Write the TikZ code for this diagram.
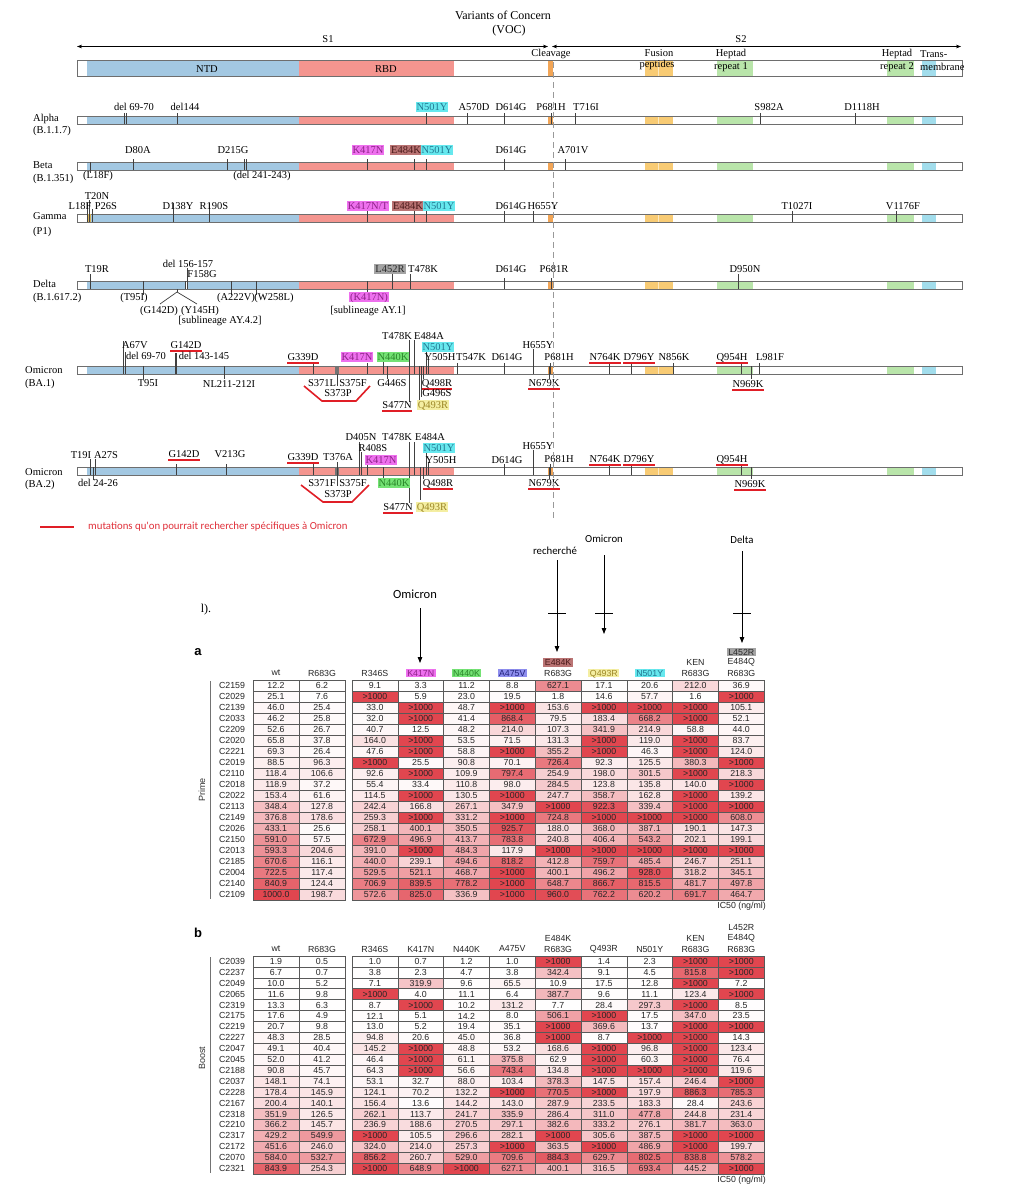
\documentclass[tikz,border=0pt]{standalone}
\usepackage{fontspec}
\setmainfont{Liberation Serif}
\newfontfamily\tabfont{Liberation Sans}
\newfontfamily\legfont{Carlito}
\usetikzlibrary{arrows.meta}

\definecolor{ntd}{HTML}{A3C8E2}
\definecolor{rbd}{HTML}{F4958F}
\definecolor{cleav}{HTML}{F2A556}
\definecolor{fus}{HTML}{F8CB74}
\definecolor{hep}{HTML}{B9E5AA}
\definecolor{tm}{HTML}{A2DDEC}
\definecolor{gtan}{HTML}{D9B45A}
\definecolor{barline}{HTML}{6E6E6E}
\definecolor{hmag}{HTML}{EE70EE}
\definecolor{hbrown}{HTML}{BA7474}
\definecolor{hcyan}{HTML}{66E8EE}
\definecolor{hgreen}{HTML}{74E274}
\definecolor{hyellow}{HTML}{F4EEA2}
\definecolor{hgray}{HTML}{A4A4A4}
\definecolor{hblue}{HTML}{8E8EEE}
\definecolor{tmag}{HTML}{8E2288}
\definecolor{tcyan}{HTML}{237892}
\definecolor{tgreen}{HTML}{2A862A}
\definecolor{tyellow}{HTML}{9C8626}
\definecolor{tbrown}{HTML}{4A1A1A}
\definecolor{tblue}{HTML}{22227A}
\definecolor{tgray}{HTML}{2A2A2A}
\definecolor{ured}{HTML}{E01E26}
\definecolor{legred}{HTML}{E0303A}
\definecolor{cellred}{HTML}{E1464F}

\newcounter{nn}
\newcommand\mutl[3]{\stepcounter{nn}\node[mlab] (n\thenn) at (#1,#2+3.5) {#3};}
\newcommand\mutu[3]{\stepcounter{nn}\node[mlab] (n\thenn) at (#1,#2+3.5) {#3};%
  \draw[uline] ([yshift=-2.3pt]n\thenn.base west) -- ([yshift=-2.3pt]n\thenn.base east);}
\newcommand\mutb[5]{\stepcounter{nn}\node[mbox, fill=#3, text=#4] (n\thenn) at (#1,#2+3.5) {#5};}
\newcommand\varl[3]{\stepcounter{nn}\node[mlab, anchor=base west] (n\thenn) at (#1,#2+3.5) {#3};}
\newcommand\tickv[3]{\draw[tickln] (#1,#2) -- (#1,#3);}
\newcommand\barfill[2]{%
  \fill[ntd] (87,#1) rectangle (299,#1+#2);
  \fill[rbd] (299,#1) rectangle (454,#1+#2);
  \fill[cleav] (548,#1) rectangle (553,#1+#2);
  \fill[fus] (645,#1) rectangle (673,#1+#2);
  \draw[white!55!fus, line width=0.6pt] (658.5,#1) -- (658.5,#1+#2);
  \fill[hep] (717,#1) rectangle (753,#1+#2);
  \fill[hep] (887,#1) rectangle (914,#1+#2);
  \fill[tm] (922,#1) rectangle (936,#1+#2);
  \draw[barline, line width=0.9pt] (77,#1) rectangle (962,#1+#2);}

\def\cbig{X}
\newcommand\mycell[4]{%
  \edef\cval{#3}%
  \ifx\cval\cbig\def\cpc{100}\def\ctxt{>1000}\else\pgfmathsetmacro\cpc{min(#3/10,100)}\let\ctxt\cval\fi
  \stepcounter{nn}%
  \node[cellbox, minimum height=#4pt, fill=cellred!\cpc!white] (n\thenn) at (#1,#2) {\ctxt};}
\newcommand\arow[4]{\pgfmathsetmacro\ry{685.5+11*#1}%
  \stepcounter{nn}\node[rlab] (n\thenn) at (232,\ry) {#2};%
  \foreach \v [count=\i from 0] in {#3} {\mycell{276+46*\i}{\ry}{\v}{11}}%
  \foreach \v [count=\i from 0] in {#4} {\mycell{374.9+45.8*\i}{\ry}{\v}{11}}}
\newcommand\brow[4]{\pgfmathsetmacro\ry{961.45+10.9*#1}%
  \stepcounter{nn}\node[rlab] (n\thenn) at (232,\ry) {#2};%
  \foreach \v [count=\i from 0] in {#3} {\mycell{276+46*\i}{\ry}{\v}{10.9}}%
  \foreach \v [count=\i from 0] in {#4} {\mycell{374.9+45.8*\i}{\ry}{\v}{10.9}}}
\newcommand\thd[3]{\stepcounter{nn}\node[thead] (n\thenn) at (#1,#2) {#3};}
\newcommand\thbx[5]{\stepcounter{nn}\node[thbox, fill=#3, text=#4] (n\thenn) at (#1,#2) {#5};}

\tikzset{
  mlab/.style={font=\fontsize{10.5}{12}\selectfont, inner sep=0pt, anchor=base},
  mbox/.style={mlab, inner xsep=1pt, inner ysep=1pt, text height=7.2pt, text depth=0.8pt},
  tickln/.style={draw=black!75, line width=0.7pt},
  uline/.style={draw=ured, line width=1.6pt},
  hdr/.style={font=\fontsize{10.5}{12}\selectfont, inner sep=0pt},
  dimarr/.style={draw=black, line width=0.6pt, {Stealth[length=5pt,width=3.6pt]}-{Stealth[length=5pt,width=3.6pt]}},
  cellbox/.style={draw=black!65, line width=0.5pt, minimum width=45.8pt, inner sep=0pt,
    font=\tabfont\fontsize{8.8}{10}\selectfont, text=black!85},
  rlab/.style={font=\tabfont\fontsize{8.8}{10}\selectfont, text=black!85, inner sep=0pt},
  thead/.style={font=\tabfont\fontsize{8.8}{10}\selectfont, text=black!85, inner sep=0pt},
  thbox/.style={font=\tabfont\fontsize{8.8}{10}\selectfont, inner xsep=1.5pt, inner ysep=0.8pt, text height=6.6pt, text depth=0.6pt},
  arr/.style={draw=black, line width=0.8pt, -{Triangle[length=6pt,width=4.5pt]}},
  callab/.style={font=\legfont\fontsize{10.8}{12}\selectfont, inner sep=0pt},
}

\begin{document}
\begin{tikzpicture}[x=1pt,y=-1pt]
\useasboundingbox (0,0) rectangle (1013,1200);
\fill[white] (0,0) rectangle (1013,1200);

% ---------- header ----------
\node[font=\fontsize{12}{14}\selectfont, inner sep=0pt] (title) at (503,15) {Variants of Concern};
\node[font=\fontsize{12}{14}\selectfont, inner sep=0pt] (voc) at (509,31) {(VOC)};
\coordinate (s1l) at (77,46.5); \coordinate (s1r) at (548,46.5);
\coordinate (s2l) at (552,46.5); \coordinate (s2r) at (961,46.5);
\draw[dimarr] (s1l) -- (s1r);
\draw[dimarr] (s2l) -- (s2r);
\node[hdr] (s1) at (328,39) {S1};
\node[hdr] (s2) at (741,39) {S2};
\barfill{60}{16}
\node[hdr] (ntdl) at (207,69) {NTD};
\node[hdr] (rbdl) at (386,69) {RBD};
\node[hdr] (cleavl) at (551,54) {Cleavage};
\node[hdr] (fus1) at (659,53) {Fusion};
\node[hdr] (fus2) at (657,65) {peptides};
\node[hdr] (hr1a) at (731,54) {Heptad};
\node[hdr] (hr1b) at (731,67) {repeat 1};
\node[hdr] (hr2a) at (897,54) {Heptad};
\node[hdr] (hr2b) at (897,67) {repeat 2};
\node[hdr, anchor=west] (tma) at (920,54) {Trans-};
\node[hdr, anchor=west] (tmb) at (920,67) {membrane};

% ---------- Alpha ----------
\varl{33}{118}{Alpha}\varl{33}{130}{(B.1.1.7)}
\barfill{116}{8}
\foreach \x in {124,126,177,426,467,504,551,575,760,855} {\tickv{\x}{113}{124}}
\mutl{134}{107}{del 69-70}\mutl{185}{107}{del144}
\mutb{432}{107}{hcyan}{tcyan}{N501Y}
\mutl{474}{107}{A570D}\mutl{511}{107}{D614G}\mutl{551}{107}{P681H}
\mutl{586}{107}{T716I}\mutl{769}{107}{S982A}\mutl{862}{107}{D1118H}

% ---------- Beta ----------
\varl{33}{165}{Beta}\varl{33}{178}{(B.1.351)}
\barfill{162}{8}
\foreach \x in {133,227,244,246,367,414,426,504,565} {\tickv{\x}{159}{170}}
\tickv{90}{162}{173}
\mutl{138}{150}{D80A}\mutl{233}{150}{D215G}
\mutb{368}{150}{hmag}{tmag}{K417N}
\mutb{406}{150}{hbrown}{tbrown}{E484K}
\mutb{437}{150}{hcyan}{tcyan}{N501Y}
\mutl{511}{150}{D614G}\mutl{573}{150}{A701V}
\mutl{98}{175}{(L18F)}\mutl{262}{175}{(del 241-243)}

% ---------- Gamma ----------
\varl{33}{216}{Gamma}\varl{33}{231}{(P1)}
\barfill{214}{8}
\fill[gtan] (87,214) rectangle (91,222);
\foreach \x in {367,414,426,504,533,792,896} {\tickv{\x}{211}{222}}
\foreach \x in {87.5,173,209} {\tickv{\x}{203}{222}}
\tickv{89.5}{200}{222}\tickv{92}{209}{222}
\mutl{80}{206}{L18F}\mutl{97}{196}{T20N}\mutl{106}{206}{P26S}
\mutl{178}{206}{D138Y}\mutl{214}{206}{R190S}
\mutb{368}{206}{hmag}{tmag}{K417N/T}
\mutb{408}{206}{hbrown}{tbrown}{E484K}
\mutb{439}{206}{hcyan}{tcyan}{N501Y}
\mutl{511}{206}{D614G}\mutl{543}{206}{H655Y}\mutl{797}{206}{T1027I}\mutl{903}{206}{V1176F}

% ---------- Delta ----------
\varl{33}{284}{Delta}\varl{33}{297}{(B.1.617.2)}
\barfill{281}{8}
\fill[white] (185,281.5) rectangle (187.5,288.5);
\foreach \x in {504,551} {\tickv{\x}{278}{289}}
\foreach \x in {90,392,410,738} {\tickv{\x}{274}{289}}
\tickv{185}{281}{289}\tickv{187.5}{268}{289}
\foreach \x in {143,231,256,367} {\tickv{\x}{281}{295}}
\tickv{177}{289}{292}
\draw[tickln] (160,304) -- (177,292) -- (197,304);
\mutl{97}{269}{T19R}
\mutl{188}{264}{del 156-157}\mutl{202}{274}{F158G}
\mutb{390}{269}{hgray}{tgray}{L452R}
\mutl{423}{269}{T478K}\mutl{511}{269}{D614G}\mutl{554}{269}{P681R}\mutl{745}{269}{D950N}
\mutl{134}{297}{(T95I)}\mutl{236}{297}{(A222V)}\mutl{274}{297}{(W258L)}
\mutb{369}{297}{hmag}{tmag}{(K417N)}
\mutl{159}{310}{(G142D)}\mutl{200}{310}{(Y145H)}
\mutl{220}{320}{[sublineage AY.4.2]}
\mutl{368}{310}{[sublineage AY.1]}

% ---------- Omicron BA.1 ----------
\varl{25}{370}{Omicron}\varl{25}{383}{(BA.1)}
\barfill{366}{8}
\foreach \x in {313,367,457,504,550.5,609,631,673,741,759} {\tickv{\x}{363}{374}}
\tickv{123}{341}{374}\tickv{125}{352}{374}
\draw[tickln, line width=1.4pt] (176,353) -- (176,374);
\foreach \x in {143,224,387,423,549,751} {\tickv{\x}{366}{379}}
\fill[black!55] (335,366) rectangle (339,374);
\tickv{337}{374}{386}
\tickv{383}{361}{374}\tickv{409}{340}{402}\tickv{414}{340}{374}\tickv{419}{366}{400}
\tickv{421}{366}{397}\tickv{426}{351}{374}\tickv{428}{360}{374}\tickv{533}{349}{374}
\mutl{135}{345}{A67V}\mutu{186}{345}{G142D}\mutl{538}{345}{H655Y}
\mutl{146}{356}{del 69-70}\mutl{204}{356}{del 143-145}
\mutu{303}{357}{G339D}
\mutb{357}{357}{hmag}{tmag}{K417N}
\mutb{393}{357}{hgreen}{tgreen}{N440K}
\mutl{440}{357}{Y505H}\mutl{471}{357}{T547K}\mutl{507}{357}{D614G}\mutl{559}{357}{P681H}
\mutu{605}{357}{N764K}\mutu{639}{357}{D796Y}\mutl{674}{357}{N856K}
\mutu{732}{357}{Q954H}\mutl{770}{357}{L981F}
\mutl{397}{336}{T478K}\mutl{429}{336}{E484A}
\mutb{438}{347}{hcyan}{tcyan}{N501Y}
\mutl{148}{383}{T95I}\mutl{229}{384}{NL211-212I}
\mutl{322}{383}{S371L}\mutl{353}{383}{S375F}\mutl{392}{383}{G446S}
\mutu{437}{383}{Q498R}\mutu{544}{383}{N679K}\mutu{748}{384}{N969K}
\mutl{338}{393}{S373P}\mutl{437}{393}{G496S}
\mutu{397}{405}{S477N}
\mutb{433}{405}{hyellow}{tyellow}{Q493R}
\draw[uline] (304,386) -- (322,401) -- (356,401) -- (370,386);

% ---------- Omicron BA.2 ----------
\varl{25}{472}{Omicron}\varl{25}{484}{(BA.2)}
\barfill{467}{8}
\foreach \x in {176,226,313,367,504,550.5,609,631,741} {\tickv{\x}{464}{475}}
\tickv{90}{459}{475}\tickv{95}{459}{475}\tickv{93}{467}{480}
\fill[black!55] (335,467) rectangle (339,475);
\tickv{337}{462}{486}
\tickv{359}{442}{475}\tickv{361}{452}{475}
\foreach \x in {383,423,549,751} {\tickv{\x}{467}{479}}
\tickv{409}{442}{503}\tickv{414}{442}{475}\tickv{420}{467}{500}
\tickv{426}{452}{475}\tickv{428}{462}{475}\tickv{533}{450}{475}
\mutl{81}{455}{T19I}\mutl{106}{455}{A27S}\mutu{184}{454}{G142D}\mutl{230}{454}{V213G}
\mutu{303}{457}{G339D}\mutl{338}{457}{T376A}
\mutl{361}{437}{D405N}\mutl{397}{437}{T478K}\mutl{430}{437}{E484A}
\mutl{373}{448}{R408S}
\mutb{439}{448}{hcyan}{tcyan}{N501Y}
\mutl{538}{446}{H655Y}
\mutb{381}{460}{hmag}{tmag}{K417N}
\mutl{441}{460}{Y505H}\mutl{507}{460}{D614G}\mutl{559}{459}{P681H}
\mutu{605}{459}{N764K}\mutu{639}{459}{D796Y}\mutu{732}{459}{Q954H}
\mutl{98}{483}{del 24-26}\mutl{322}{483}{S371F}\mutl{353}{483}{S375F}
\mutb{394}{483}{hgreen}{tgreen}{N440K}
\mutu{438}{483}{Q498R}\mutu{544}{483}{N679K}\mutu{750}{484}{N969K}
\mutl{338}{494}{S373P}
\mutu{398}{507}{S477N}
\mutb{432}{507}{hyellow}{tyellow}{Q493R}
\draw[uline] (301,485) -- (323,502) -- (352,502) -- (369,485);

% dashed cleavage line
\draw[black!40, line width=0.7pt, dash pattern=on 6pt off 4pt] (553,62) -- (553,518);

% legend
\coordinate (lg1) at (40,527); \coordinate (lg2) at (74,527);
\draw[ured, line width=2.4pt] (lg1) -- (lg2);
\node[font=\legfont\fontsize{10.8}{12}\selectfont, text=legred, anchor=west, inner sep=0pt] (legt) at (88,527) {mutations qu'on pourrait rechercher spécifiques à Omicron};

% ---------- arrows above table ----------
\node[font=\fontsize{12}{14}\selectfont, inner sep=0pt] (frag) at (206,610) {l).};
\node[callab, font=\legfont\fontsize{12.5}{14}\selectfont] (omA) at (415,594) {Omicron};
\coordinate (omAst) at (420,608); \coordinate (omAend) at (420,663);
\draw[arr] (omAst) -- (omAend);
\node[callab] (rech) at (555,551) {recherché};
\coordinate (rechst) at (557,560); \coordinate (rechend) at (557,652);
\draw[arr] (rechst) -- (rechend);
\node[callab] (omB) at (604,539) {Omicron};
\coordinate (omBst) at (604,555); \coordinate (omBend) at (604,634);
\draw[arr] (omBst) -- (omBend);
\node[callab] (delt) at (742,540) {Delta};
\coordinate (deltst) at (742,551); \coordinate (deltend) at (742,643);
\draw[arr] (deltst) -- (deltend);
\foreach \x in {557,604,742} {\draw[line width=0.8pt] (\x-9,613) -- (\x+9,613);}

% ---------- table a ----------
\node[font=\tabfont\bfseries\fontsize{13}{15}\selectfont, inner sep=0pt] (la) at (198,652) {a};
\thd{276}{673}{wt}\thd{322}{673}{R683G}\thd{374.9}{673}{R346S}
\thbx{420.7}{673}{hmag}{tmag}{K417N}
\thbx{466.5}{673}{hgreen}{tgreen}{N440K}
\thbx{512.3}{673}{hblue}{tblue}{A475V}
\thd{558.1}{673}{R683G}
\thbx{558.1}{662.5}{hbrown}{tbrown}{E484K}
\thbx{603.9}{673}{hyellow}{tyellow}{Q493R}
\thbx{649.7}{673}{hcyan}{tcyan}{N501Y}
\thd{695.5}{673}{R683G}\thd{695.5}{662.5}{KEN}
\thd{741.3}{673}{R683G}\thd{741.3}{662.5}{E484Q}
\thbx{741.3}{652}{hgray}{tgray}{L452R}
\draw[black!55, line width=0.8pt] (210,681) -- (210,899);
\node[font=\tabfont\fontsize{9}{10}\selectfont, text=black!80, rotate=90, inner sep=0pt] (prime) at (202,790) {Prime};
\arow{0}{C2159}{12.2,6.2}{9.1,3.3,11.2,8.8,627.1,17.1,20.6,212.0,36.9}
\arow{1}{C2029}{25.1,7.6}{X,5.9,23.0,19.5,1.8,14.6,57.7,1.6,X}
\arow{2}{C2139}{46.0,25.4}{33.0,X,48.7,X,153.6,X,X,X,105.1}
\arow{3}{C2033}{46.2,25.8}{32.0,X,41.4,868.4,79.5,183.4,668.2,X,52.1}
\arow{4}{C2209}{52.6,26.7}{40.7,12.5,48.2,214.0,107.3,341.9,214.9,58.8,44.0}
\arow{5}{C2020}{65.8,37.8}{164.0,X,53.5,71.5,131.3,X,119.0,X,83.7}
\arow{6}{C2221}{69.3,26.4}{47.6,X,58.8,X,355.2,X,46.3,X,124.0}
\arow{7}{C2019}{88.5,96.3}{X,25.5,90.8,70.1,726.4,92.3,125.5,380.3,X}
\arow{8}{C2110}{118.4,106.6}{92.6,X,109.9,797.4,254.9,198.0,301.5,X,218.3}
\arow{9}{C2018}{118.9,37.2}{55.4,33.4,110.8,98.0,284.5,123.8,135.8,140.0,X}
\arow{10}{C2022}{153.4,61.6}{114.5,X,130.5,X,247.7,358.7,162.8,X,139.2}
\arow{11}{C2113}{348.4,127.8}{242.4,166.8,267.1,347.9,X,922.3,339.4,X,X}
\arow{12}{C2149}{376.8,178.6}{259.3,X,331.2,X,724.8,X,X,X,608.0}
\arow{13}{C2026}{433.1,25.6}{258.1,400.1,350.5,925.7,188.0,368.0,387.1,190.1,147.3}
\arow{14}{C2150}{591.0,57.5}{672.9,496.9,413.7,783.8,240.8,406.4,543.2,202.1,199.1}
\arow{15}{C2013}{593.3,204.6}{391.0,X,484.3,117.9,X,X,X,X,X}
\arow{16}{C2185}{670.6,116.1}{440.0,239.1,494.6,818.2,412.8,759.7,485.4,246.7,251.1}
\arow{17}{C2004}{722.5,117.4}{529.5,521.1,468.7,X,400.1,496.2,928.0,318.2,345.1}
\arow{18}{C2140}{840.9,124.4}{706.9,839.5,778.2,X,648.7,866.7,815.5,481.7,497.8}
\arow{19}{C2109}{1000.0,198.7}{572.6,825.0,336.9,X,960.0,762.2,620.2,691.7,464.7}
\node[thead, anchor=east] (ica) at (766,906) {IC50 (ng/ml)};

% ---------- table b ----------
\node[font=\tabfont\bfseries\fontsize{13}{15}\selectfont, inner sep=0pt] (lb) at (198,933) {b};
\thd{276}{949}{wt}\thd{322}{949}{R683G}\thd{374.9}{949}{R346S}\thd{420.7}{949}{K417N}
\thd{466.5}{949}{N440K}\thd{512.3}{949}{A475V}\thd{558.1}{949}{R683G}\thd{558.1}{938}{E484K}
\thd{603.9}{949}{Q493R}\thd{649.7}{949}{N501Y}\thd{695.5}{949}{R683G}\thd{695.5}{938}{KEN}
\thd{741.3}{949}{R683G}\thd{741.3}{938}{E484Q}\thd{741.3}{927}{L452R}
\draw[black!55, line width=0.8pt] (210,957) -- (210,1173);
\node[font=\tabfont\fontsize{9}{10}\selectfont, text=black!80, rotate=90, inner sep=0pt] (boost) at (202,1058) {Boost};
\brow{0}{C2039}{1.9,0.5}{1.0,0.7,1.2,1.0,X,1.4,2.3,X,X}
\brow{1}{C2237}{6.7,0.7}{3.8,2.3,4.7,3.8,342.4,9.1,4.5,815.8,X}
\brow{2}{C2049}{10.0,5.2}{7.1,319.9,9.6,65.5,10.9,17.5,12.8,X,7.2}
\brow{3}{C2065}{11.6,9.8}{X,4.0,11.1,6.4,387.7,9.6,11.1,123.4,X}
\brow{4}{C2319}{13.3,6.3}{8.7,X,10.2,131.2,7.7,28.4,297.3,X,8.5}
\brow{5}{C2175}{17.6,4.9}{12.1,5.1,14.2,8.0,506.1,X,17.5,347.0,23.5}
\brow{6}{C2219}{20.7,9.8}{13.0,5.2,19.4,35.1,X,369.6,13.7,X,X}
\brow{7}{C2227}{48.3,28.5}{94.8,20.6,45.0,36.8,X,8.7,X,X,14.3}
\brow{8}{C2047}{49.1,40.4}{145.2,X,48.8,53.2,168.6,X,96.8,X,123.4}
\brow{9}{C2045}{52.0,41.2}{46.4,X,61.1,375.8,62.9,X,60.3,X,76.4}
\brow{10}{C2188}{90.8,45.7}{64.3,X,56.6,743.4,134.8,X,X,X,119.6}
\brow{11}{C2037}{148.1,74.1}{53.1,32.7,88.0,103.4,378.3,147.5,157.4,246.4,X}
\brow{12}{C2228}{178.4,145.9}{124.1,70.2,132.2,X,770.5,X,197.9,886.3,785.3}
\brow{13}{C2167}{200.4,140.1}{156.4,13.6,144.2,143.0,287.9,233.5,183.3,28.4,243.6}
\brow{14}{C2318}{351.9,126.5}{262.1,113.7,241.7,335.9,286.4,311.0,477.8,244.8,231.4}
\brow{15}{C2210}{366.2,145.7}{236.9,188.6,270.5,297.1,382.6,333.2,276.1,381.7,363.0}
\brow{16}{C2317}{429.2,549.9}{X,105.5,296.6,282.1,X,305.6,387.5,X,X}
\brow{17}{C2172}{451.6,246.0}{324.0,214.0,257.3,X,363.5,X,486.9,X,199.7}
\brow{18}{C2070}{584.0,532.7}{856.2,260.7,529.0,709.6,884.3,629.7,802.5,838.8,578.2}
\brow{19}{C2321}{843.9,254.3}{X,648.9,X,627.1,400.1,316.5,693.4,445.2,X}
\node[thead, anchor=east] (icb) at (766,1180) {IC50 (ng/ml)};
\end{tikzpicture}
\end{document}
